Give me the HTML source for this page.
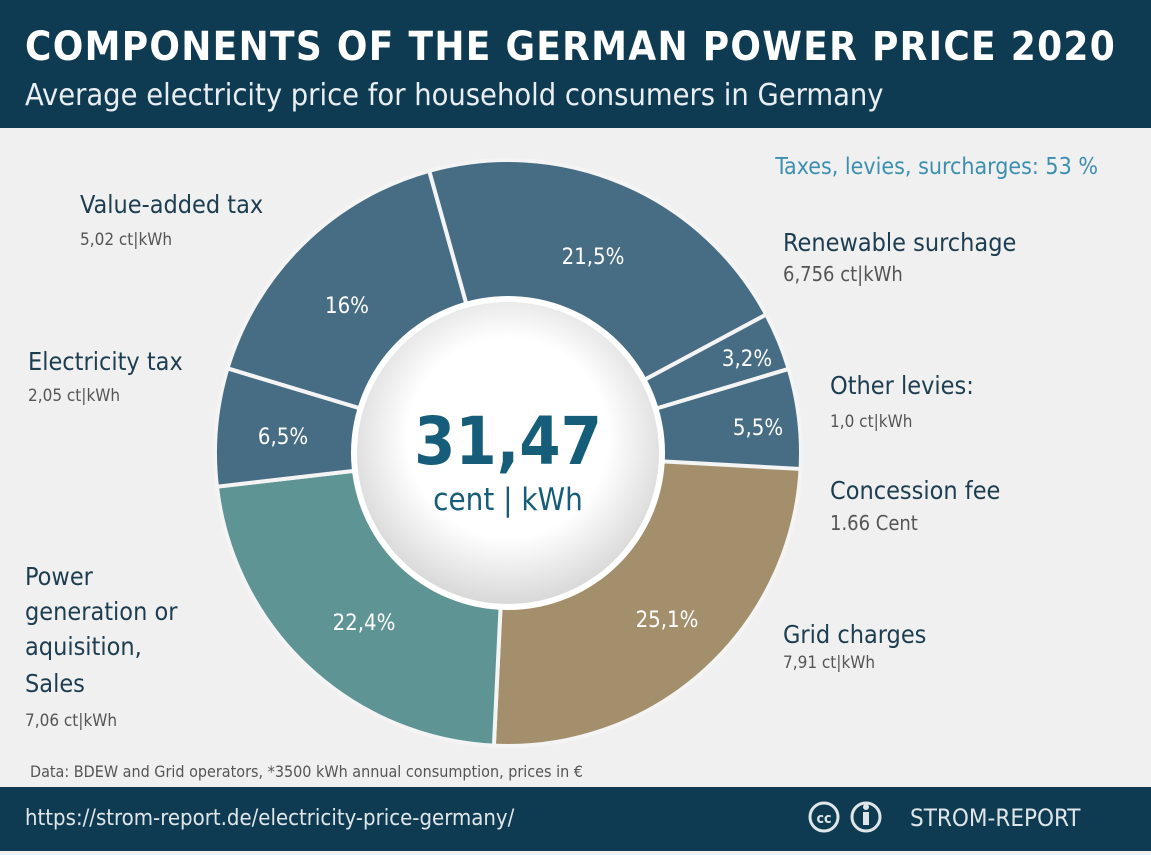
<!DOCTYPE html>
<html><head><meta charset="utf-8"><style>
body{margin:0;width:1151px;height:851px;overflow:hidden;background:#f0f0f0;font-family:"DejaVu Sans Condensed","Liberation Sans",sans-serif}
</style></head><body>
<svg width="1151" height="851" xmlns="http://www.w3.org/2000/svg" font-family="DejaVu Sans Condensed, Liberation Sans, sans-serif">
<defs>
<radialGradient id="g" cx="0.5" cy="0.45" r="0.55"><stop offset="0.6" stop-color="#ffffff"/><stop offset="1" stop-color="#d8d8d8"/></radialGradient>
</defs>
<rect width="1151" height="851" fill="#f0f0f0"/>
<rect width="1151" height="128" fill="#0f3b52"/>
<text x="25" y="60" fill="#fff" font-size="40" font-weight="bold" letter-spacing="1.3">COMPONENTS OF THE GERMAN POWER PRICE 2020</text>
<text x="25" y="105" fill="#e8eef2" font-size="30.5">Average electricity price for household consumers in Germany</text>
<g id="pie"></g>
<circle cx="508" cy="453" r="157" fill="#fff"/>
<circle cx="508" cy="453" r="151" fill="url(#g)"/>
<text x="508" y="464" text-anchor="middle" fill="#155d78" font-size="66" font-weight="bold">31,47</text>
<text x="508" y="510" text-anchor="middle" fill="#155d78" font-size="31">cent | kWh</text>
<g fill="#fff" font-size="22" text-anchor="middle">
<text x="593" y="264">21,5%</text><text x="347" y="313">16%</text>
<text x="747" y="366">3,2%</text><text x="758" y="435">5,5%</text>
<text x="283" y="444">6,5%</text><text x="364" y="630">22,4%</text><text x="667" y="627">25,1%</text>
</g>
<g fill="#1d3d50" font-size="25">
<text x="80" y="213">Value-added tax</text><text x="28" y="370">Electricity tax</text>
<text x="783" y="251">Renewable surchage</text><text x="830" y="394">Other levies:</text>
<text x="830" y="499">Concession fee</text><text x="783" y="643">Grid charges</text>
<text x="25" y="585">Power</text><text x="25" y="620">generation or</text><text x="25" y="655">aquisition,</text><text x="25" y="692">Sales</text>
</g>
<g fill="#555" font-size="17">
<text x="80" y="245">5,02 ct|kWh</text><text x="28" y="401">2,05 ct|kWh</text>
<text x="783" y="281" font-size="20">6,756 ct|kWh</text><text x="830" y="427">1,0 ct|kWh</text>
<text x="830" y="530" font-size="20">1.66 Cent</text><text x="783" y="668">7,91 ct|kWh</text>
<text x="25" y="726">7,06 ct|kWh</text>
</g>
<text x="1098" y="174" text-anchor="end" fill="#3d8fb0" font-size="23">Taxes, levies, surcharges: 53 %</text>
<text x="30" y="777" fill="#555" font-size="16">Data: BDEW and Grid operators, *3500 kWh annual consumption, prices in €</text>
<rect y="787" width="1151" height="64" fill="#0f3b52"/>
<text x="25" y="825" fill="#dfe6ea" font-size="22">https://strom-report.de/electricity-price-germany/</text>
<circle cx="824" cy="817" r="14" fill="none" stroke="#dfe6ea" stroke-width="3"/>
<text x="824" y="823" text-anchor="middle" fill="#dfe6ea" font-size="14" font-weight="bold">cc</text>
<circle cx="866" cy="817" r="14" fill="none" stroke="#dfe6ea" stroke-width="3"/>
<rect x="863" y="812" width="6" height="13" fill="#dfe6ea"/><circle cx="866" cy="807" r="3" fill="#dfe6ea"/>
<text x="910" y="826" fill="#dfe6ea" font-size="24">STROM-REPORT</text>
</svg>
<script>
var segs=[[92.4,25.1,"#a38f6b"],[0,22.4,"#5f9494"],[0,6.5,"#476d85"],[0,16,"#476d85"],[0,21.5,"#476d85"],[0,3.2,"#476d85"],[0,5.5,"#476d85"]];
var cx=508,cy=453,R=293,a=92.4,g=document.getElementById("pie"),s="";
function pt(d,r){var t=(d-90)*Math.PI/180;return [cx+r*Math.cos(t),cy+r*Math.sin(t)];}
segs.forEach(function(x){var sw=x[1]*3.6,b=a+sw,p1=pt(a,R),p2=pt(b,R);
s+='<path d="M'+cx+','+cy+'L'+p1+'A'+R+','+R+' 0 '+(sw>180?1:0)+' 1 '+p2+'Z" fill="'+x[2]+'" stroke="#f4f4f4" stroke-width="4"/>';a=b;});
g.innerHTML=s;
</script>
</body></html>
